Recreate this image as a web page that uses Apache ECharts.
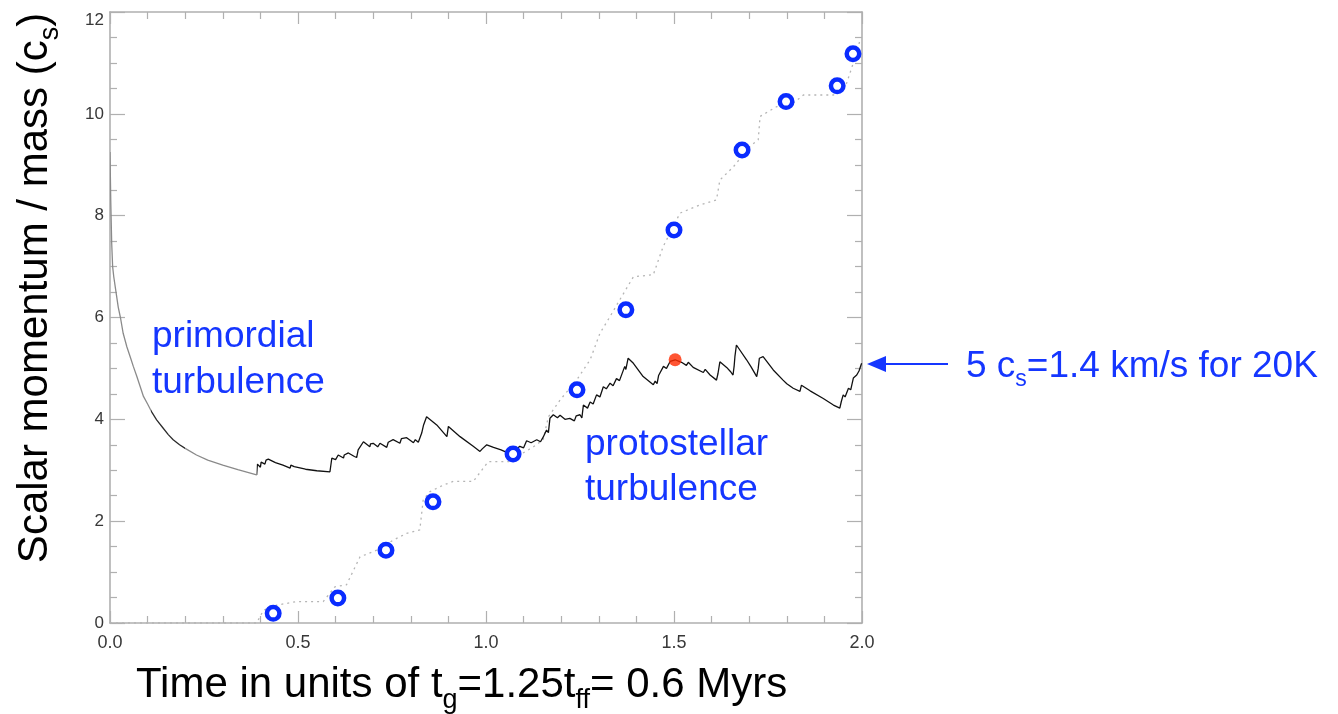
<!DOCTYPE html>
<html>
<head>
<meta charset="utf-8">
<script src="https://cdn.jsdelivr.net/npm/echarts@6/dist/echarts.min.js"></script>
<style>
  html, body { margin: 0; padding: 0; background: #fff; }
  #main { width: 1338px; height: 714px; }
</style>
</head>
<body>
<div id="main"></div>
<script>
// gas momentum / mass (black sawtooth curve)
var tGas = [0.000, 0.002, 0.0045, 0.007, 0.010, 0.016, 0.022, 0.028, 0.035, 0.045, 0.055, 0.062, 0.071, 0.080, 0.089, 0.100, 0.112, 0.124, 0.140, 0.155, 0.168, 0.185, 0.200, 0.230, 0.260, 0.300, 0.340, 0.390,
  0.392, 0.400, 0.402, 0.412, 0.415, 0.421, 0.440, 0.460, 0.479, 0.481, 0.490, 0.520, 0.550, 0.585,
  0.590, 0.600, 0.607, 0.621, 0.623, 0.634, 0.650, 0.656, 0.660, 0.674, 0.691, 0.693, 0.700, 0.712, 0.718, 0.736, 0.740, 0.753, 0.771, 0.775, 0.789, 0.800, 0.807, 0.812, 0.820,
  0.829, 0.834, 0.842, 0.869, 0.896, 0.900, 0.931, 0.966, 0.984, 0.990, 1.002, 1.020, 1.040, 1.055, 1.060, 1.075, 1.090, 1.100, 1.108, 1.120, 1.135, 1.145, 1.152,
  1.161, 1.166, 1.170, 1.179, 1.190, 1.197, 1.210, 1.223, 1.235, 1.240, 1.250, 1.255, 1.259, 1.270, 1.277, 1.285, 1.294, 1.303, 1.312, 1.320, 1.330, 1.338, 1.347, 1.355,
  1.369, 1.372, 1.378, 1.392, 1.418, 1.445, 1.450, 1.455, 1.459, 1.472, 1.480, 1.490, 1.503, 1.520, 1.533, 1.538, 1.551, 1.578, 1.583, 1.596, 1.613, 1.617, 1.622,
  1.640, 1.650, 1.657, 1.660, 1.662, 1.666, 1.693, 1.705, 1.720, 1.724, 1.727, 1.737, 1.764, 1.790, 1.800, 1.817, 1.835, 1.839, 1.862, 1.897, 1.924, 1.941, 1.945,
  1.950, 1.955, 1.964, 1.970, 1.977, 1.986, 1.992, 1.999];
var vGas = [9.25, 8.30, 7.46, 7.00, 6.80, 6.50, 6.20, 5.99, 5.69, 5.42, 5.20, 5.04, 4.85, 4.65, 4.45, 4.30, 4.13, 3.99, 3.84, 3.70, 3.60, 3.50, 3.43, 3.30, 3.20, 3.10, 3.01, 2.91,
  3.12, 3.06, 3.16, 3.12, 3.20, 3.22, 3.15, 3.10, 3.04, 3.10, 3.07, 3.02, 2.99, 2.97,
  3.24, 3.21, 3.30, 3.24, 3.30, 3.34, 3.27, 3.25, 3.40, 3.56, 3.46, 3.52, 3.53, 3.46, 3.53, 3.45, 3.55, 3.60, 3.53, 3.62, 3.64, 3.58, 3.54, 3.60, 3.55,
  3.73, 3.89, 4.05, 3.89, 3.66, 3.86, 3.66, 3.47, 3.37, 3.42, 3.50, 3.45, 3.40, 3.35, 3.42, 3.38, 3.47, 3.44, 3.58, 3.54, 3.60, 3.56, 3.65,
  3.79, 3.74, 4.02, 4.09, 4.03, 4.08, 4.00, 4.02, 3.97, 4.07, 4.09, 4.03, 4.28, 4.22, 4.34, 4.30, 4.48, 4.44, 4.64, 4.60, 4.71, 4.66, 4.80, 4.76,
  5.04, 4.98, 5.20, 5.10, 4.84, 4.68, 4.75, 4.70, 4.86, 5.04, 5.00, 5.14, 5.17, 5.12, 5.06, 5.12, 5.02, 4.92, 4.98, 4.87, 4.77, 4.90, 5.13,
  5.02, 4.94, 4.87, 5.05, 5.23, 5.46, 5.17, 5.03, 4.84, 5.00, 5.20, 5.23, 4.97, 4.77, 4.70, 4.61, 4.55, 4.67, 4.56, 4.41, 4.28, 4.22, 4.35,
  4.48, 4.44, 4.61, 4.58, 4.81, 4.87, 4.95, 5.10];

// stellar (dotted staircase)
var tStar = [0.000, 0.390, 0.408, 0.443, 0.496, 0.567, 0.598, 0.629, 0.665, 0.709, 0.754, 0.789, 0.824, 0.833, 0.851, 0.887, 0.913, 0.966, 1.006, 1.060,
  1.126, 1.152, 1.166, 1.197, 1.241, 1.277, 1.303, 1.330, 1.356, 1.392, 1.445, 1.471, 1.516, 1.569, 1.613, 1.622, 1.658, 1.702, 1.724, 1.729,
  1.773, 1.817, 1.844, 1.924, 1.959, 1.977, 1.995];
var vStar = [0, 0, 0.25, 0.35, 0.42, 0.42, 0.71, 0.75, 1.30, 1.43, 1.63, 1.76, 1.83, 2.42, 2.58, 2.71, 2.78, 2.78, 3.17, 3.17,
  3.46, 3.60, 4.05, 4.38, 4.77, 5.17, 5.69, 6.02, 6.35, 6.80, 6.84, 7.39, 8.05, 8.21, 8.31, 8.70, 8.96, 9.36, 9.49, 9.95,
  10.14, 10.21, 10.37, 10.37, 10.60, 11.00, 11.45];

// open blue circles
var tCirc = [0.434, 0.606, 0.734, 0.859, 1.072, 1.242, 1.372, 1.500, 1.681, 1.798, 1.934, 1.976];
var vCirc = [0.19, 0.49, 1.43, 2.38, 3.32, 4.58, 6.15, 7.72, 9.29, 10.24, 10.55, 11.18];

// red dot
var tRed = [1.503];
var vRed = [5.17];

var xTicks = [0, 0.5, 1.0, 1.5, 2.0];
var yTicks = [0, 2, 4, 6, 8, 10, 12];

function zip(a, b) {
  return a.map(function (v, i) { return [v, b[i]]; });
}

var FONT = '"Liberation Sans", Arial, sans-serif';
var BLUE = '#1536ff';

// measure helper for text runs with subscripts
var ctx = document.createElement('canvas').getContext('2d');
function measure(txt, size) {
  ctx.font = size + 'px ' + FONT;
  return ctx.measureText(txt).width;
}
// segments: [text, size, dy] -> text elements along a baseline at local (0,0)
function textRun(segs, color) {
  var x = 0;
  var out = [];
  segs.forEach(function (s) {
    out.push({
      type: 'text',
      x: x,
      y: s[2] - 0.3465 * s[1],
      style: {
        text: s[0],
        font: s[1] + 'px ' + FONT,
        fill: color,
        align: 'left',
        verticalAlign: 'middle'
      }
    });
    x += measure(s[0], s[1]);
  });
  return { children: out, width: x };
}

var xTitle = textRun([
  ['Time in units of t', 42, 0], ['g', 27, 10], ['=1.25t', 42, 0], ['ff', 27, 10], ['= 0.6 Myrs', 42, 0]
], '#000');
var yTitle = textRun([
  ['Scalar momentum / mass (c', 42, 0], ['s', 27, 10], [')', 42, 0]
], '#000');
var note = textRun([
  ['5 c', 37, 0], ['s', 23, 8], ['=1.4 km/s for 20K', 37, 0]
], BLUE);

function blueText(txt, x, baseline) {
  return {
    type: 'text', x: x, y: baseline - 0.3465 * 37,
    style: { text: txt, font: '37px ' + FONT, fill: BLUE, verticalAlign: 'middle' }
  };
}

var chartDom = document.getElementById('main');
var myChart = echarts.init(chartDom, null, { renderer: 'canvas' });

var axisLineStyle = { color: '#b0b0b0', width: 1.6 };
var tickStyle = { color: '#b0b0b0', width: 1.2 };

function frameX(pos, labels) {
  return {
    type: 'value', position: pos, min: 0, max: 2, interval: 0.5,
    axisLine: { onZero: false, lineStyle: axisLineStyle },
    axisTick: { inside: true, length: 12, lineStyle: tickStyle },
    minorTick: { show: true, splitNumber: 5, length: 7, lineStyle: tickStyle },
    splitLine: { show: false },
    axisLabel: labels ? {
      margin: 11, fontSize: 18, color: '#383838', fontFamily: FONT,
      formatter: function (v) { return xTicks.indexOf(v) >= 0 ? v.toFixed(1) : ''; }
    } : { show: false }
  };
}
function frameY(pos, labels) {
  return {
    type: 'value', position: pos, min: 0, max: 12, interval: 2,
    axisLine: { show: true, onZero: false, lineStyle: axisLineStyle },
    axisTick: { show: true, inside: true, length: 15, lineStyle: tickStyle },
    minorTick: { show: true, splitNumber: 4, length: 7, lineStyle: tickStyle },
    splitLine: { show: false },
    axisLabel: labels ? {
      margin: 6, fontSize: 17, color: '#383838', fontFamily: FONT,
      verticalAlignMaxLabel: 'top',
      formatter: function (v) { return yTicks.indexOf(v) >= 0 ? String(v) : ''; }
    } : { show: false }
  };
}

myChart.setOption({
  animation: false,
  grid: { left: 110, right: 476, top: 12, bottom: 91, outerBoundsMode: 'none' },
  visualMap: {
    show: false,
    type: 'piecewise',
    seriesIndex: 0,
    dimension: 0,
    pieces: [
      { gte: 0, lt: 0.11, color: '#8a8a8a' },
      { gte: 0.11, lt: 0.2, color: '#2a2a2a' },
      { gte: 0.2, lt: 0.39, color: '#8a8a8a' },
      { gte: 0.39, lte: 2.1, color: '#111' }
    ]
  },
  xAxis: [frameX('bottom', true), frameX('top', false)],
  yAxis: [frameY('left', true), frameY('right', false)],
  series: [
    {
      name: 'gas', type: 'line', data: zip(tGas, vGas),
      showSymbol: false, symbol: 'none', z: 3,
      lineStyle: { width: 1.3 }
    },
    {
      name: 'stars', type: 'line', data: zip(tStar, vStar),
      showSymbol: false, symbol: 'none', z: 2,
      lineStyle: { color: '#b5b5b5', width: 1.3, type: [2, 4] }
    },
    {
      name: 'samples', type: 'scatter', data: zip(tCirc, vCirc),
      symbol: 'circle', symbolSize: 12.5, z: 5,
      itemStyle: { color: '#fff', borderColor: '#0a2cff', borderWidth: 4.5, opacity: 1 }
    },
    {
      name: 'now', type: 'scatter', data: zip(tRed, vRed),
      symbol: 'circle', symbolSize: 13, z: 6,
      itemStyle: { color: '#ff2a00' }
    }
  ],
  graphic: [
    blueText('primordial', 152, 350),
    blueText('turbulence', 152, 396),
    blueText('protostellar', 585, 458),
    blueText('turbulence', 585, 503),
    { type: 'group', x: 966, y: 380, children: note.children },
    {
      type: 'line', shape: { x1: 948, y1: 364, x2: 880, y2: 364 },
      style: { stroke: BLUE, lineWidth: 2 }
    },
    {
      type: 'polygon', shape: { points: [[867, 364], [886, 356], [886, 372]] },
      style: { fill: BLUE }
    },
    { type: 'group', x: 136, y: 700, children: xTitle.children },
    {
      type: 'group', x: 50, y: 288 + yTitle.width / 2, rotation: Math.PI / 2,
      children: yTitle.children
    }
  ]
});
</script>
</body>
</html>
